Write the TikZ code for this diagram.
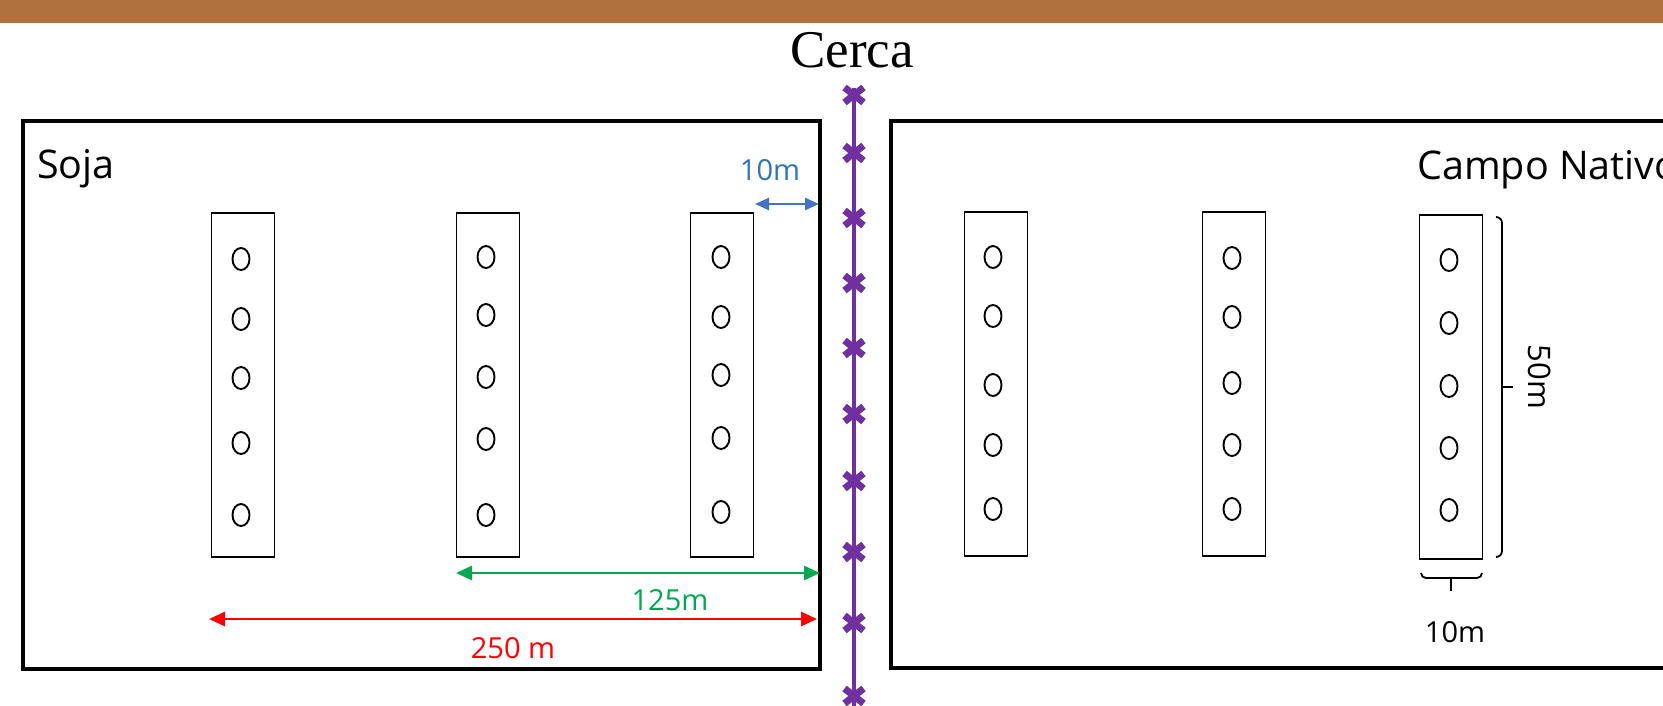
\documentclass[tikz,border=0pt]{standalone}
\usepackage{fontspec}
\setmainfont{Open Sans}
\newfontfamily\cercafont{Liberation Serif}
\usetikzlibrary{arrows.meta,shapes.geometric}
\definecolor{brownbar}{RGB}{176,113,62}
\definecolor{fencepurple}{RGB}{112,48,160}
\definecolor{dimblue}{RGB}{68,114,196}
\definecolor{dimbluetext}{RGB}{46,117,182}
\definecolor{dimgreen}{RGB}{0,168,80}
\definecolor{dimred}{RGB}{255,0,0}
\begin{document}
\begin{tikzpicture}[x=1pt,y=-1pt,
  field/.style={draw=black,line width=3.8pt},
  plotbox/.style={draw=black,line width=1.8pt,minimum width=63pt,minimum height=344pt,inner sep=0pt},
  hole/.style={ellipse,draw=black,line width=1.9pt,minimum width=17pt,minimum height=22pt,inner sep=0pt},
  fence/.style={draw=fencepurple,line width=3.5pt},
  xmark/.style={draw=fencepurple,line width=7pt},
  dimarrow/.style={line width=2.6pt,{Triangle[length=16pt,width=14pt]}-{Triangle[length=16pt,width=14pt]}},
  bracketline/.style={draw=black,line width=1.8pt},
  lbl/.style={font=\fontsize{29}{34}\selectfont,inner sep=0pt},
  fieldlbl/.style={font=\fontsize{39.5}{46}\selectfont,inner sep=0pt}
]
\useasboundingbox (0,0) rectangle (1663,705);
\fill[brownbar] (0,0) rectangle (1663,23);

% fields
\draw[field] (23,121) rectangle (820,669);
\draw[field] (891,121) rectangle (1700,668);

% title
\node[font=\cercafont\fontsize{53}{60}\selectfont,inner sep=0pt] (cerca) at (852,50) {Cerca};

% field labels
\node[fieldlbl,anchor=base west] (soja) at (37,178) {Soja};
\node[fieldlbl,anchor=base west] (campo) at (1417,179) {Campo Nativo};

% fence
\coordinate (ftop) at (854,88);
\coordinate (fbot) at (854,712);
\draw[fence] (ftop) -- (fbot);
\foreach \yy in {95,153,218,283,348,414,481,552,623,696}
  \draw[xmark] (854,\yy) +(-9.5,-7.5) -- +(9.5,7.5) +(-9.5,7.5) -- +(9.5,-7.5);

% plots
\node[plotbox] (p1) at (243,385) {};
\node[plotbox] (p2) at (488,385) {};
\node[plotbox] (p3) at (722,385) {};
\node[plotbox] (p4) at (996,384) {};
\node[plotbox] (p5) at (1234,384) {};
\node[plotbox] (p6) at (1451,387) {};

% holes
\foreach \yy [count=\i] in {259,319,378,443,515} \node[hole] (h1\i) at (241,\yy) {};
\foreach \yy [count=\i] in {257,315,377,439,515} \node[hole] (h2\i) at (486,\yy) {};
\foreach \yy [count=\i] in {257,317,375,438,512} \node[hole] (h3\i) at (721,\yy) {};
\foreach \yy [count=\i] in {257,316,385,445,509} \node[hole] (h4\i) at (993,\yy) {};
\foreach \yy [count=\i] in {258,317,383,445,509} \node[hole] (h5\i) at (1232,\yy) {};
\foreach \yy [count=\i] in {260,323,386,448,510} \node[hole] (h6\i) at (1449,\yy) {};

% blue 10m
\coordinate (b1) at (755,204);
\coordinate (b2) at (819,204);
\draw[dimarrow,dimblue,{Triangle[length=14pt,width=12pt]}-{Triangle[length=14pt,width=12pt]}] (b1) -- (b2);
\node[lbl,text=dimbluetext] (t10b) at (770,170) {10m};

% green 125m
\coordinate (g1) at (456,573);
\coordinate (g2) at (820,573);
\draw[dimarrow,dimgreen] (g1) -- (g2);
\node[lbl,text=dimgreen] (t125) at (670,600) {125m};

% red 250 m
\coordinate (r1) at (209,619);
\coordinate (r2) at (817,619);
\draw[dimarrow,dimred] (r1) -- (r2);
\node[lbl,text=dimred] (t250) at (513,648) {250 m};

% bracket 50m
\draw[bracketline] (1496,217) to[out=0,in=90] (1502,223) -- (1502,551) to[out=-90,in=0] (1496,557);
\draw[bracketline] (1502,387) -- (1513,387);
\node[lbl,rotate=-90,font=\fontsize{31}{36}\selectfont] (t50) at (1540,377) {50m};

% bracket 10m
\draw[bracketline] (1421,573) to[out=-90,in=180] (1426,578) -- (1477,578) to[out=0,in=-90] (1482,573);
\draw[bracketline] (1451,578) -- (1451,591);
\node[lbl] (t10) at (1455,632) {10m};
\end{tikzpicture}
\end{document}
